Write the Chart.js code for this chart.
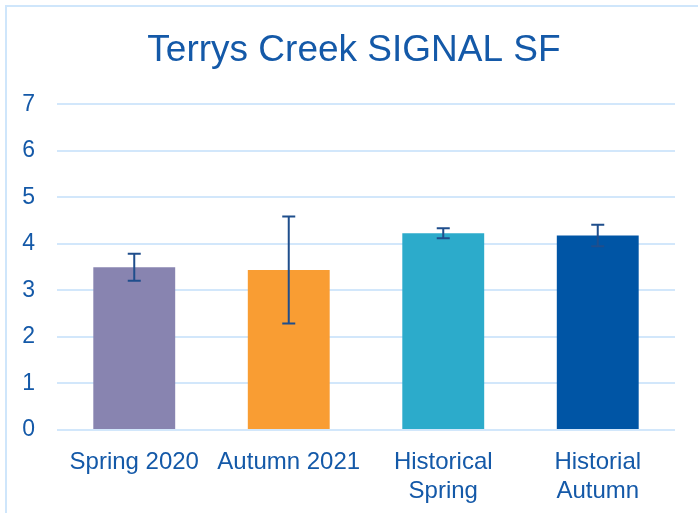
<!DOCTYPE html>
<html>
<head>
<meta charset="utf-8">
<script src="https://cdn.jsdelivr.net/npm/chart.js@4"></script>
<style>
  html, body { margin: 0; padding: 0; background: #fff; overflow: hidden; }
  #frame { position: absolute; left: 5px; top: 5px; width: 800px; height: 600px; border: 2px solid #cfe6fb; }
  #wrap { position: absolute; left: 0; top: 0; width: 708px; height: 513px; }
</style>
</head>
<body>
<div id="frame"></div>
<div id="wrap"><canvas id="signal-barChart"></canvas></div>
<script>
const categories = ["Spring 2020", "Autumn 2021", ["Historical", "Spring"], ["Historial", "Autumn"]];
const values = [3.5, 3.44, 4.23, 4.18];
const errors = [0.29, 1.15, 0.11, 0.23];
const barColors = ["#8884b0", "#f99d33", "#2cabcb", "#0055a5"];
const yTicks = [0, 1, 2, 3, 4, 5, 6, 7];

const textColor = "#1459a8";
const gridColor = "#d2e7fb";

// draws the error bars from the data through the y scale
const errorBars = {
    id: "errorBars",
    afterDatasetsDraw(chart) {
        const ctx = chart.ctx;
        const yScale = chart.scales.y;
        const meta = chart.getDatasetMeta(0);
        ctx.save();
        ctx.strokeStyle = "#1f4e8c";
        ctx.lineWidth = 2;
        meta.data.forEach((bar, i) => {
            const x = bar.x;
            const top = yScale.getPixelForValue(values[i] + errors[i]);
            const bottom = yScale.getPixelForValue(values[i] - errors[i]);
            ctx.beginPath();
            ctx.moveTo(x, top);
            ctx.lineTo(x, bottom);
            ctx.moveTo(x - 6.5, top);
            ctx.lineTo(x + 6.5, top);
            ctx.moveTo(x - 6.5, bottom);
            ctx.lineTo(x + 6.5, bottom);
            ctx.stroke();
        });
        ctx.restore();
    }
};

new Chart(document.getElementById("signal-barChart"), {
    type: "bar",
    data: {
        labels: categories,
        datasets: [{
            data: values,
            backgroundColor: barColors,
            borderWidth: 0,
            categoryPercentage: 1,
            barPercentage: 0.53
        }]
    },
    options: {
        responsive: true,
        maintainAspectRatio: false,
        animation: false,
        layout: { padding: { left: 0, right: 0, top: 10, bottom: 0 } },
        plugins: {
            legend: { display: false },
            tooltip: { enabled: false },
            title: {
                display: true,
                text: "Terrys Creek SIGNAL SF",
                color: textColor,
                font: { family: "'Liberation Sans', Arial, sans-serif", size: 37, weight: "normal" },
                padding: { top: 19, bottom: 31 }
            }
        },
        scales: {
            x: {
                grid: { display: false },
                border: { display: false },
                ticks: {
                    color: textColor,
                    padding: 10,
                    maxRotation: 0,
                    font: { family: "'Liberation Sans', Arial, sans-serif", size: 24 }
                },
                afterFit(scale) { scale.height = 83; }
            },
            y: {
                min: 0,
                max: 7,
                afterBuildTicks(scale) { scale.ticks = yTicks.map(v => ({ value: v })); },
                grid: { color: gridColor, lineWidth: 2, drawTicks: false },
                border: { display: false },
                ticks: {
                    color: textColor,
                    padding: 22,
                    font: { family: "'Liberation Sans', Arial, sans-serif", size: 23 }
                },
                afterFit(scale) { scale.width = 57; }
            },
            // empty right margin so the title centres like the original
            yRight: {
                position: "right",
                grid: { display: false, drawTicks: false },
                border: { display: false },
                ticks: { display: false },
                afterFit(scale) { scale.width = 33; }
            }
        }
    },
    plugins: [errorBars]
});
</script>
</body>
</html>
